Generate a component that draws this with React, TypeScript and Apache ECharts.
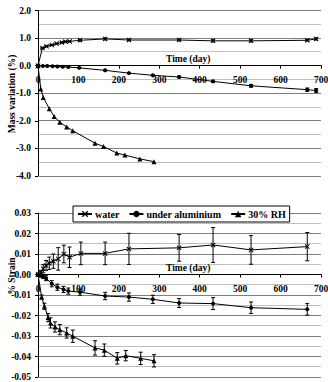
import React, { useEffect, useRef } from "react";
import * as echarts from "echarts";

// ---- Data ----
const massWaterDays = [0, 11, 21, 34, 46, 59, 68, 78, 104, 166, 225, 349, 433, 527, 666, 688];
const massWater = [0, 0.64, 0.7, 0.75, 0.8, 0.84, 0.87, 0.88, 0.92, 0.97, 0.93, 0.93, 0.9, 0.9, 0.92, 0.97];
const massWaterErr = [0, 0.02, 0.02, 0.02, 0.02, 0.02, 0.02, 0.02, 0.03, 0.04, 0.03, 0.03, 0.04, 0.04, 0.03, 0.04];

const massAluDays = [0, 12, 23, 36, 48, 61, 75, 102, 166, 225, 284, 349, 433, 527, 666, 688];
const massAlu = [0, -0.01, -0.01, -0.02, -0.03, -0.04, -0.05, -0.08, -0.17, -0.27, -0.35, -0.41, -0.57, -0.73, -0.87, -0.9];
const massAluErr = [0, 0.01, 0.01, 0.01, 0.01, 0.01, 0.01, 0.02, 0.02, 0.02, 0.02, 0.03, 0.04, 0.05, 0.06, 0.07];

const massRhDays = [0, 7, 13, 28, 40, 54, 71, 86, 141, 162, 195, 215, 252, 287];
const massRh = [0, -0.85, -1.15, -1.56, -1.84, -2.05, -2.22, -2.36, -2.81, -2.93, -3.17, -3.24, -3.38, -3.48];

const strainWaterDays = [0, 7, 13, 20, 28, 38, 50, 64, 78, 106, 166, 225, 349, 433, 527, 666];
const strainWater = [0, 0.001, 0.0028, 0.0044, 0.0055, 0.0065, 0.0076, 0.01, 0.0084, 0.0103, 0.0103, 0.0125, 0.013, 0.0144, 0.012, 0.0136];
const strainWaterErr = [0.0005, 0.001, 0.002, 0.0024, 0.003, 0.0035, 0.0055, 0.0043, 0.005, 0.0055, 0.0055, 0.0076, 0.0065, 0.0085, 0.007, 0.0069];

const strainAluDays = [0, 7, 13, 20, 34, 48, 63, 75, 104, 166, 225, 284, 349, 433, 527, 666];
const strainAlu = [0, -0.0005, -0.001, -0.0018, -0.0045, -0.0062, -0.0073, -0.0081, -0.0086, -0.0105, -0.011, -0.0121, -0.0139, -0.0142, -0.0162, -0.017];
const strainAluErr = [0.0003, 0.0008, 0.001, 0.0012, 0.0015, 0.0015, 0.0015, 0.0015, 0.0015, 0.0018, 0.002, 0.002, 0.0022, 0.0029, 0.0028, 0.0028];

const strainRhDays = [0, 9, 16, 25, 31, 42, 54, 71, 86, 141, 164, 196, 217, 254, 287];
const strainRh = [0, -0.011, -0.0155, -0.021, -0.0236, -0.0256, -0.0269, -0.0285, -0.0301, -0.0358, -0.0369, -0.0409, -0.0396, -0.0409, -0.0421];
const strainRhErr = [0.0005, 0.001, 0.0015, 0.002, 0.0025, 0.0025, 0.0025, 0.0025, 0.003, 0.0035, 0.003, 0.0028, 0.0025, 0.003, 0.003];

const X_RANGE = [0, 700];
const xTicks = [0, 100, 200, 300, 400, 500, 600, 700];
const TOP_Y = [-4, 2];
const TOP_STEP = 1;
const BOT_Y = [-0.05, 0.03];
const BOT_STEP = 0.01;

const seriesNames = ["water", "under aluminium", "30% RH"];
const xTitle = "Time (day)";
const topYTitle = "Mass variation (%)";
const bottomYTitle = "% Strain";

const FONT = "Liberation Serif";
const CROSS = "path://M0,1.4L1.4,0L5,3.6L8.6,0L10,1.4L6.4,5L10,8.6L8.6,10L5,6.4L1.4,10L0,8.6L3.6,5Z";

function pairs(xs: number[], ys: number[]) {
  return xs.map((x, i) => [x, ys[i]]);
}
function errs(xs: number[], ys: number[], es: number[]) {
  return xs.map((x, i) => [x, ys[i] - es[i], ys[i] + es[i]]);
}
// gridline levels every half step: [x, value, isMajor]; zero skipped (axis line there)
function levels(range: number[], step: number) {
  const out: number[][] = [];
  const n = Math.round(((range[1] - range[0]) / step) * 2);
  for (let i = 0; i <= n; i++) {
    const v = range[0] + (i * step) / 2;
    if (Math.abs(v) < step * 1e-6) continue;
    out.push([X_RANGE[0], v, i % 2 === 0 ? 1 : 0]);
  }
  return out;
}

const errorRender = (params: any, api: any) => {
  const x = api.value(0);
  const p1 = api.coord([x, api.value(1)]);
  const p2 = api.coord([x, api.value(2)]);
  const w = 2;
  const st = { stroke: "#000", lineWidth: 1 };
  return {
    type: "group",
    children: [
      { type: "line", shape: { x1: p1[0], y1: p1[1], x2: p2[0], y2: p2[1] }, style: st },
      { type: "line", shape: { x1: p1[0] - w, y1: p1[1], x2: p1[0] + w, y2: p1[1] }, style: st },
      { type: "line", shape: { x1: p2[0] - w, y1: p2[1], x2: p2[0] + w, y2: p2[1] }, style: st },
    ],
  };
};

const gridRender = (params: any, api: any) => {
  const v = api.value(1);
  const a = api.coord([X_RANGE[0], v]);
  const b = api.coord([X_RANGE[1], v]);
  const y = Math.round(a[1] - 0.5) + 0.5;
  const major = api.value(2) === 1;
  return {
    type: "rect",
    shape: { x: a[0] + 1, y: y - 0.5, width: b[0] - a[0] - 1, height: 1 },
    style: { fill: major ? "#000" : "#000", opacity: major ? 0.5 : 0.25 },
  };
};

// x tick labels placed under the y = 0 line
const xLabelRender = (params: any, api: any) => {
  const v = api.value(0);
  const p = api.coord([v, 0]);
  return {
    type: "text",
    x: p[0],
    y: p[1] + 9,
    style: { text: String(v), align: "center", verticalAlign: "top", font: `bold 9.5px "${FONT}"`, fill: "#000" },
  };
};

export default function App() {
  const ref = useRef<HTMLDivElement>(null);
  useEffect(() => {
    if (!ref.current) return;
    const chart = echarts.init(ref.current, undefined, { renderer: "svg" });
    const labelStyle = { fontFamily: FONT, fontWeight: "bold" as const, fontSize: 9.5, color: "#000" };
    const xAxisCommon = (gi: number) => ({
      type: "value" as const,
      gridIndex: gi,
      min: X_RANGE[0],
      max: X_RANGE[1],
      interval: 100,
      axisLine: { onZero: true, lineStyle: { color: "#000", width: 1 } },
      axisTick: { show: true, length: 3, lineStyle: { color: "#000" } },
      axisLabel: { show: false },
      splitLine: { show: false },
    });
    const yAxisCommon = (gi: number, range: number[], interval: number, digits: number) => ({
      type: "value" as const,
      gridIndex: gi,
      min: range[0],
      max: range[1],
      interval,
      axisLine: { show: true, lineStyle: { color: "#000" } },
      axisTick: { show: true, length: 3, lineStyle: { color: "#000" } },
      axisLabel: {
        ...labelStyle,
        margin: 7,
        formatter: (v: number) => (Math.abs(v) < 1e-9 ? (0).toFixed(digits) : v.toFixed(digits)),
      },
      splitLine: { show: false },
    });
    const lineSeries = (name: string, data: number[][], symbol: string, size: number, xi: number) => ({
      type: "line" as const,
      name,
      data,
      xAxisIndex: xi,
      yAxisIndex: xi,
      symbol,
      symbolSize: size,
      showAllSymbol: true,
      lineStyle: { color: "#000", width: 1 },
      itemStyle: { color: "#000" },
      z: 3,
    });
    const customSeries = (name: string, data: number[][], xi: number, renderItem: any, y: any, z: number) => ({
      type: "custom" as const,
      name,
      data,
      xAxisIndex: xi,
      yAxisIndex: xi,
      renderItem,
      encode: { x: 0, y },
      silent: true,
      clip: false,
      z,
    });

    chart.setOption({
      animation: false,
      backgroundColor: "#fff",
      grid: [
        { left: 38, top: 10.5, width: 283, height: 165.5 },
        { left: 38, top: 213, width: 283, height: 164 },
      ],
      xAxis: [xAxisCommon(0), xAxisCommon(1)],
      yAxis: [yAxisCommon(0, TOP_Y, TOP_STEP, 1), yAxisCommon(1, BOT_Y, BOT_STEP, 2)],
      legend: {
        data: seriesNames,
        left: 73,
        top: 206,
        orient: "horizontal",
        backgroundColor: "#fff",
        borderColor: "#000",
        borderWidth: 1,
        borderRadius: 0,
        padding: [3, 4, 3, 4],
        itemWidth: 14,
        itemHeight: 8,
        itemGap: 9,
        textStyle: { fontFamily: FONT, fontWeight: "bold", fontSize: 10, color: "#000", padding: [0, 0, 0, -2] },
      },
      graphic: [
        {
          type: "text",
          x: 12,
          y: 94,
          rotation: Math.PI / 2,
          style: { text: topYTitle, align: "center", verticalAlign: "middle", font: `bold 9.5px "${FONT}"`, fill: "#000" },
        },
        {
          type: "text",
          x: 12,
          y: 276,
          rotation: Math.PI / 2,
          style: { text: bottomYTitle, align: "center", verticalAlign: "middle", font: `bold 9.5px "${FONT}"`, fill: "#000" },
        },
        {
          type: "text",
          x: 166,
          y: 59,
          style: { text: xTitle, align: "left", verticalAlign: "middle", font: `bold 9.5px "${FONT}"`, fill: "#000" },
        },
        {
          type: "text",
          x: 166,
          y: 268,
          style: { text: xTitle, align: "left", verticalAlign: "middle", font: `bold 9.5px "${FONT}"`, fill: "#000" },
        },
      ],
      series: [
        customSeries("grid", levels(TOP_Y, TOP_STEP), 0, gridRender, 1, 1),
        customSeries("grid", levels(BOT_Y, BOT_STEP), 1, gridRender, 1, 1),
        customSeries("xlabels", xTicks.map((t) => [t, 0]), 0, xLabelRender, 1, 2),
        customSeries("xlabels", xTicks.map((t) => [t, 0]), 1, xLabelRender, 1, 2),
        customSeries("err", errs(massWaterDays, massWater, massWaterErr), 0, errorRender, [1, 2], 2),
        customSeries("err", errs(massAluDays, massAlu, massAluErr), 0, errorRender, [1, 2], 2),
        lineSeries(seriesNames[0], pairs(massWaterDays, massWater), CROSS, 5, 0),
        lineSeries(seriesNames[1], pairs(massAluDays, massAlu), "circle", 4, 0),
        lineSeries(seriesNames[2], pairs(massRhDays, massRh), "triangle", 5, 0),
        customSeries("err", errs(strainWaterDays, strainWater, strainWaterErr), 1, errorRender, [1, 2], 2),
        customSeries("err", errs(strainAluDays, strainAlu, strainAluErr), 1, errorRender, [1, 2], 2),
        customSeries("err", errs(strainRhDays, strainRh, strainRhErr), 1, errorRender, [1, 2], 2),
        lineSeries(seriesNames[0], pairs(strainWaterDays, strainWater), CROSS, 5, 1),
        lineSeries(seriesNames[1], pairs(strainAluDays, strainAlu), "circle", 4, 1),
        lineSeries(seriesNames[2], pairs(strainRhDays, strainRh), "triangle", 5, 1),
      ],
    });
    return () => chart.dispose();
  }, []);
  return (
    <div
      ref={ref}
      style={{ position: "fixed", left: 0, top: 0, width: 328, height: 382, background: "#fff" }}
    />
  );
}
